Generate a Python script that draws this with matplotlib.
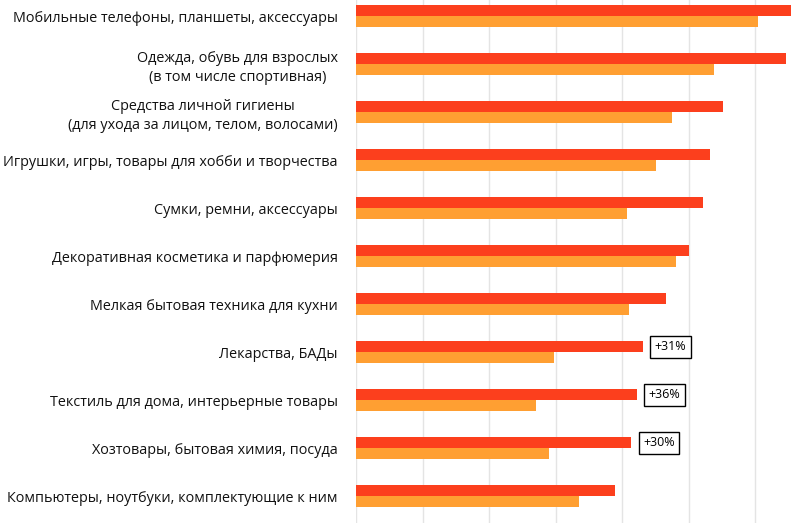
import matplotlib
matplotlib.use('Agg')
import numpy as np
import matplotlib.pyplot as plt

plt.rcParams['font.family'] = ['Open Sans', 'DejaVu Sans']

categories = [
    'Мобильные телефоны, планшеты, аксессуары',
    'Одежда, обувь для взрослых\n(в том числе спортивная)',
    'Средства личной гигиены\n(для ухода за лицом, телом, волосами)',
    'Игрушки, игры, товары для хобби и творчества',
    'Сумки, ремни, аксессуары',
    'Декоративная косметика и парфюмерия',
    'Мелкая бытовая техника для кухни',
    'Лекарства, БАДы',
    'Текстиль для дома, интерьерные товары',
    'Хозтовары, бытовая химия, посуда',
    'Компьютеры, ноутбуки, комплектующие к ним',
]
current = [6.54, 6.47, 5.52, 5.32, 5.22, 5.00, 4.66, 4.31, 4.22, 4.14, 3.89]
previous = [6.05, 5.39, 4.75, 4.51, 4.08, 4.81, 4.10, 2.98, 2.70, 2.90, 3.36]
growth = {7: '+31%', 8: '+36%', 9: '+30%'}

red = '#FC3F1D'
orange = '#FF9F32'

fig = plt.figure(figsize=(8, 5.23), dpi=100)
ax = fig.add_axes([356 / 800, 0, 444 / 800, 1])

y = np.arange(len(categories))
h = 0.22
ax.barh(y - h / 2, current, height=h, color=red, zorder=3)
ax.barh(y + h / 2, previous, height=h, color=orange, zorder=3)

for i, txt in growth.items():
    ax.text(current[i] + 0.18, y[i] - h / 2, txt, ha='left', va='center',
            fontsize=9, fontweight='medium', color='black', zorder=4,
            bbox=dict(boxstyle='square,pad=0.35', fc='white', ec='black', lw=1))

ax.set_xlim(0, 444 / 66.5)
ax.set_ylim((523 - 16) / 48, -16 / 48)
ax.set_xticks(np.arange(0, 7))
ax.set_xticklabels([])
ax.tick_params(axis='x', length=0)
ax.grid(axis='x', color='#e4e4e4', lw=1, zorder=0)
ax.set_yticks(y)
ax.set_yticklabels(categories, fontsize=10.4, color='#111111')
ax.tick_params(axis='y', length=0, pad=13)
for lab in ax.get_yticklabels():
    lab.set_multialignment('center')
    lab.set_linespacing(1.35)
for s in ax.spines.values():
    s.set_visible(False)

fig.savefig('out.png', dpi=100)
